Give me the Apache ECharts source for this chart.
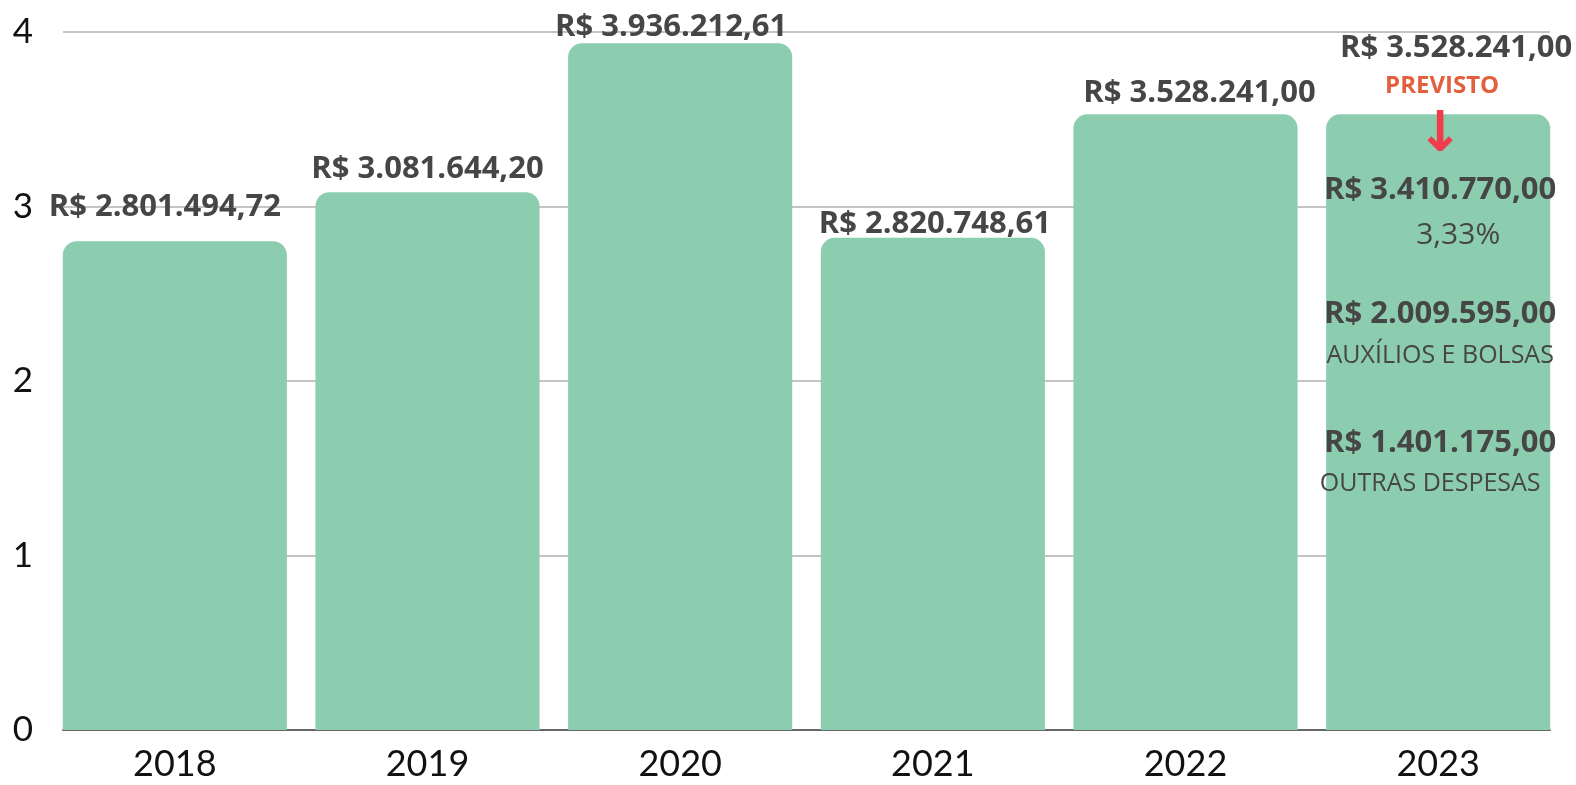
<!DOCTYPE html>
<html>
<head>
<meta charset="utf-8">
<script src="https://cdn.jsdelivr.net/npm/echarts@6/dist/echarts.min.js"></script>
<style>
  html, body { margin: 0; padding: 0; background: #fff; }
  #chart { width: 1576px; height: 785px; }
</style>
</head>
<body>
<div id="chart"></div>
<script>
// yearly totals (R$)
const years = ['2018', '2019', '2020', '2021', '2022', '2023'];
const totals = [2801494.72, 3081644.20, 3936212.61, 2820748.61, 3528241.00, 3528241.00];
const yTicks = [0, 1, 2, 3, 4];

// 2023 forecast breakdown
const forecastTotal = 3410770.00;
const forecastChange = '3,33%';
const breakdownNames = ['AUXÍLIOS E BOLSAS', 'OUTRAS DESPESAS'];
const breakdownValues = [2009595.00, 1401175.00];

function brl(v) {
  const parts = v.toFixed(2).split('.');
  const int = parts[0].replace(/\B(?=(\d{3})+(?!\d))/g, '.');
  return 'R$ ' + int + ',' + parts[1];
}

const AXIS_FONT = 'Lato';
const FONT = 'Open Sans';
const TEXT = '#464646';
const BAR = '#8ccdaf';

// small per-label nudges, the source labels are hand placed
const labelNudge = [[-10, 18], [0, 8], [-9, 0], [2, -2], [14, 6]];

const last = years.length - 1;
const barData = totals.map((v, i) => {
  const item = { value: v / 1e6 };
  if (i < last) {
    item.label = { offset: [labelNudge[i][0], 0], distance: labelNudge[i][1] };
  } else {
    item.label = {
      offset: [18, 0],
      distance: 10,
      lineHeight: 40,
      formatter: (p) => brl(totals[p.dataIndex]) + '\n{p|PREVISTO}',
      rich: {
        p: { fontFamily: FONT, fontWeight: 'bold', fontSize: 24, color: '#e2603e', lineHeight: 36, padding: [0, 28, 0, 0] }
      }
    };
  }
  return item;
});

const overlayData = totals.map((v, i) => (i === last ? v / 1e6 : '-'));
const insideText = [
  '{a|↓}',
  '{s1| }',
  '{v|' + brl(forecastTotal) + '}',
  '{pc|' + forecastChange + '}',
  '{s2| }',
  '{v|' + brl(breakdownValues[0]) + '}',
  '{c|' + breakdownNames[0] + '}',
  '{s3| }',
  '{v|' + brl(breakdownValues[1]) + '}',
  '{c2|' + breakdownNames[1] + '}'
].join('\n');

const chart = echarts.init(document.getElementById('chart'));
chart.setOption({
  animation: false,
  grid: [
    { left: 48.5, right: 11.5, top: 32, bottom: 55 },
    { left: 63, right: 26, top: 32, bottom: 55 }
  ],
  xAxis: [
    {
      type: 'category', gridIndex: 0, data: years,
      axisLine: { show: false }, axisTick: { show: false },
      axisLabel: { fontFamily: AXIS_FONT, fontSize: 36, color: '#111', margin: 16 }
    },
    {
      type: 'category', gridIndex: 1, data: years,
      axisLine: { show: true, lineStyle: { color: '#666', width: 2 } },
      axisTick: { show: false }, axisLabel: { show: false }
    }
  ],
  yAxis: [
    { type: 'value', gridIndex: 0, min: 0, max: 4, interval: 1, show: false, splitLine: { show: false } },
    {
      type: 'value', gridIndex: 1, min: yTicks[0], max: yTicks[yTicks.length - 1], interval: 1,
      axisLine: { show: false }, axisTick: { show: false },
      axisLabel: { fontFamily: AXIS_FONT, fontSize: 35, color: '#111', margin: 30 },
      splitLine: { lineStyle: { color: '#c4c4c4', width: 2 } }
    }
  ],
  series: [
    {
      type: 'bar', xAxisIndex: 0, yAxisIndex: 0,
      data: barData,
      barCategoryGap: '11.3%',
      itemStyle: { color: BAR, borderRadius: [14, 14, 0, 0] },
      label: {
        show: true, position: 'top',
        fontFamily: FONT, fontWeight: 'bold', fontSize: 31, color: TEXT,
        formatter: (p) => brl(totals[p.dataIndex])
      },
      z: 3
    },
    {
      type: 'bar', xAxisIndex: 0, yAxisIndex: 0,
      data: overlayData,
      barGap: '-100%',
      barCategoryGap: '11.3%',
      itemStyle: { color: 'rgba(0,0,0,0)' },
      label: {
        show: true, position: 'insideTop', distance: 0, offset: [2, 2],
        formatter: insideText,
        rich: {
          a: { fontFamily: 'DejaVu Sans', fontWeight: 'bold', fontSize: 56, color: '#f03c4c', lineHeight: 40 },
          s1: { fontSize: 1, lineHeight: 10 },
          v: { fontFamily: FONT, fontWeight: 'bold', fontSize: 31, color: TEXT, lineHeight: 48 },
          pc: { fontFamily: FONT, fontSize: 30, color: TEXT, lineHeight: 42, padding: [0, 0, 0, 36] },
          s2: { fontSize: 1, lineHeight: 34 },
          c: { fontFamily: FONT, fontSize: 25, color: TEXT, lineHeight: 36 },
          s3: { fontSize: 1, lineHeight: 45 },
          c2: { fontFamily: FONT, fontSize: 25, color: TEXT, lineHeight: 34, padding: [0, 20, 0, 0] }
        }
      },
      z: 4
    }
  ]
});
</script>
</body>
</html>
